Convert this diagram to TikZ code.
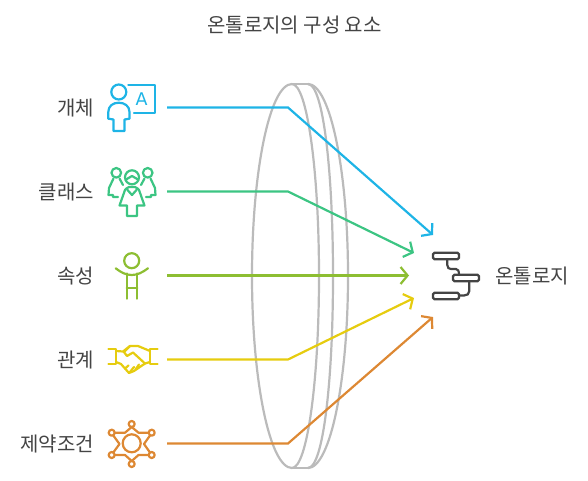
\documentclass[tikz,border=0pt]{standalone}
\usepackage{fontspec}
\setmainfont{Noto Sans CJK KR}
\newfontfamily\iconfont{DejaVu Sans}
\usetikzlibrary{arrows.meta}
\definecolor{cblue}{HTML}{1EB4E6}
\definecolor{cgreen}{HTML}{3CC583}
\definecolor{colive}{HTML}{8DBE32}
\definecolor{cyellow}{HTML}{E6CC0F}
\definecolor{corange}{HTML}{DD8833}
\definecolor{ctext}{HTML}{444444}
\definecolor{clens}{HTML}{BBBBBB}
\tikzset{
  lab/.style={text=ctext,font=\fontsize{20}{22}\selectfont,inner sep=0pt,anchor=east},
  conn/.style={line width=2.2pt,-{Straight Barb[length=7pt,width=17pt,line width=2.2pt]},line join=miter},
  icon/.style={line width=2.2pt,line join=round,line cap=round},
  lensline/.style={clens,line width=2.2pt},
  stackbox/.style={draw=ctext,line width=2.2pt,rounded corners=1.5pt,minimum width=26pt,minimum height=6.5pt,inner sep=0pt}
}
\begin{document}
\begin{tikzpicture}[x=1pt,y=-1pt]
\useasboundingbox (0,0) rectangle (588,481);
% lens
\draw[lensline] (292,84) .. controls (270,84) and (252,170) .. (252,276) .. controls (252,382) and (270,468) .. (292,468);
\draw[lensline] (292,84) .. controls (307,84) and (319,170) .. (319,276) .. controls (319,382) and (307,468) .. (292,468);
\draw[lensline] (308,84) .. controls (323,84) and (333,170) .. (333,276) .. controls (333,382) and (323,468) .. (308,468);
\draw[lensline] (308,84) .. controls (330,84) and (348,170) .. (348,276) .. controls (348,382) and (330,468) .. (308,468);
\draw[lensline] (292,84) -- (308,84);
\draw[lensline] (292,468) -- (308,468);
% title and labels
\node[text=ctext,font=\fontsize{20}{22}\selectfont,inner sep=0pt] (title) at (294.5,25.5) {온톨로지의 구성 요소};
\node[lab] (l1) at (94,108.5) {개체};
\node[lab] (l2) at (94,192.5) {클래스};
\node[lab] (l3) at (94,276.5) {속성};
\node[lab] (l4) at (94,360.5) {관계};
\node[lab] (l5) at (94,444.5) {제약조건};
\node[lab,anchor=west] (ont) at (495,276.5) {온톨로지};
% connector ends
\coordinate (s1) at (167,107.5); \coordinate (b1) at (288,107.5); \coordinate (t1) at (433,235);
\coordinate (s2) at (167,191.5); \coordinate (b2) at (288,191.5); \coordinate (t2) at (414,253);
\coordinate (s3) at (167,275.5); \coordinate (t3) at (409,275.5);
\coordinate (s4) at (167,359.5); \coordinate (b4) at (288,359.5); \coordinate (t4) at (414,298);
\coordinate (s5) at (167,443.5); \coordinate (b5) at (288,443.5); \coordinate (t5) at (433,317);
\draw[conn,cblue] (s1) -- (b1) -- (t1);
\draw[conn,cgreen] (s2) -- (b2) -- (t2);
\draw[conn,colive] (s3) -- (t3);
\draw[conn,cyellow] (s4) -- (b4) -- (t4);
\draw[conn,corange] (s5) -- (b5) -- (t5);
% icon 1
\begin{scope}[icon,cblue]
\draw (118.8,92) circle[radius=7.5];
\draw (115,131) -- (124.5,131) -- (124.5,119.5) -- (129.5,118.7) -- (129.5,112) .. controls (129.5,106) and (124.5,102.7) .. (118.8,102.7) .. controls (113,102.7) and (108.3,106) .. (108.3,112) -- (108.3,118.7) -- (113.5,119.5) -- (113.5,131) -- cycle;
\draw (128.3,84.7) -- (155.3,84.7) -- (155.3,112.7) -- (134,112.7);
\node[text=cblue,font=\iconfont\fontsize{17.5}{18}\selectfont,inner sep=0pt] (iconA) at (141.5,98.8) {A};
\end{scope}
% icon 2
\begin{scope}[icon,cgreen]
\draw (132,177.3) circle[radius=7];
\draw (126,179.5) .. controls (128,179) and (130,176.5) .. (132,176) .. controls (134,176.5) and (136,179) .. (138,179.5);
\draw (129,187) .. controls (127,188) and (126,188.5) .. (125,190) -- (119.5,205.5) -- (127,205.5) -- (127,216) -- (137,216) -- (137,205.5) -- (144.5,205.5) -- (139,190) .. controls (138,188.5) and (137,188) .. (135,187) -- cycle;
\draw (127.5,190) -- (132,195) -- (136.5,190);
\draw (116.3,172.8) circle[radius=4.8];
\draw (147.7,172.8) circle[radius=4.8];
\draw (113.5,178.5) -- (109,188) -- (108.5,195) -- (113,195) -- (113,197) -- (118,197);
\draw (119.5,178.5) -- (123,185);
\draw (150.5,178.5) -- (155,188) -- (155.5,195) -- (151,195) -- (151,197) -- (146,197);
\draw (144.5,178.5) -- (141,185);
\end{scope}
% icon 3
\begin{scope}[icon,colive]
\draw (131.7,260.7) circle[radius=7.5];
\draw (115.7,268.3) .. controls (121,272.5) and (126,275) .. (131.7,275) .. controls (137.4,275) and (142.4,272.5) .. (148,268.3);
\draw (126.7,273.5) -- (126.7,298.7);
\draw (137.3,273.5) -- (137.3,298.7);
\draw (126.7,287.7) -- (137.3,287.7);
\end{scope}
% icon 4
\begin{scope}[icon,cyellow]
\draw (108.5,349) -- (116,349) -- (116,364) -- (108.5,364);
\draw (157.5,349) -- (150,349) -- (150,364) -- (157.5,364);
\draw (116,351) -- (123,351.5) -- (130,346) -- (138,346) -- (150,351);
\draw (130,346) -- (124,352) -- (127,356) -- (133,352.5) -- (145,363.5);
\draw (116,362) -- (121,364) -- (129,373) -- (134,371) -- (145,363.5) -- (150,362);
\draw (125,368.5) -- (128.5,365.5);
\draw (130,372) -- (134,367);
\draw (135.5,369.5) -- (139,364.5);
\end{scope}
% icon 5
\begin{scope}[icon,corange]
\draw (131.7,443.3) circle[radius=9];
\foreach \n/\x/\y in {a/131.7/424,b/111.7/432.7,c/151.7/432.7,d/111.7/455,e/151.7/455,f/131.7/464}
  \draw (\x,\y) circle[radius=3];
\draw (131.7,427) -- (125,432.7) -- (114.7,432.7);
\draw (131.7,427) -- (138.5,432.7) -- (148.7,432.7);
\draw (113.3,435.5) -- (119.5,444) -- (113.3,452.5);
\draw (150,435.5) -- (144,444) -- (150,452.5);
\draw (114.7,455) -- (125,455) -- (131.7,461);
\draw (148.7,455) -- (138.5,455) -- (131.7,461);
\end{scope}
% icon 6
\node[stackbox] (sb1) at (446,256) {};
\node[stackbox] (sb2) at (466,278) {};
\node[stackbox] (sb3) at (446,296) {};
\draw[ctext,line width=2.2pt] (447.3,259.2) -- (447.3,265) .. controls (447.3,268) and (449,269) .. (451,269) -- (456,269) .. controls (458,269) and (459,271) .. (459,274.8);
\draw[ctext,line width=2.2pt] (469.3,281.2) -- (469.3,291) .. controls (469.3,294) and (467,295.5) .. (464,295.5) -- (459.3,295.5);
\end{tikzpicture}
\end{document}
